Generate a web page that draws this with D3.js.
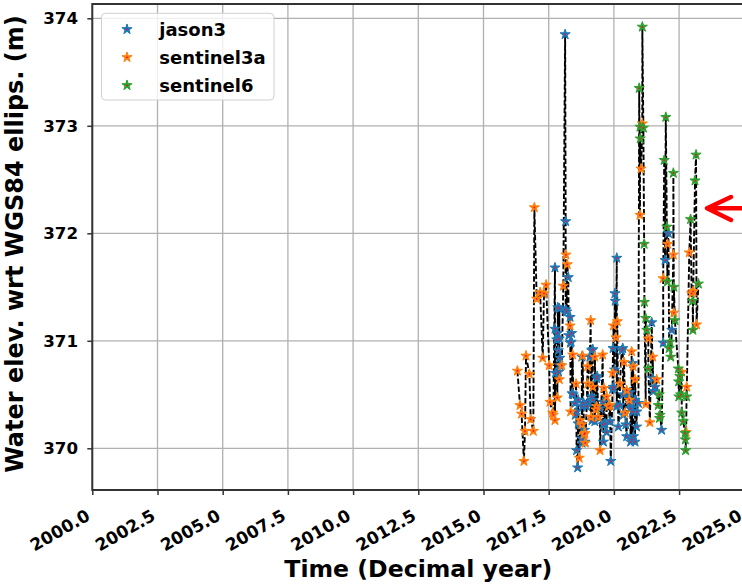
<!DOCTYPE html>
<html>
<head>
<meta charset="utf-8">
<script src="https://cdn.jsdelivr.net/npm/d3@7"></script>
<style>
    body { margin: 0; background: #fff; }
    text { font-family: "DejaVu Sans", sans-serif; font-weight: bold; fill: #000; }
</style>
</head>
<body>
<div id="chart"></div>
<script>
// mission names, in legend order
const missions = ["jason3", "sentinel3a", "sentinel6"];

// [decimal year, water elevation (m)]
const jason3 = [
    [2017.74, 371.68], [2017.74, 371.11], [2017.76, 370.70], [2017.81, 371.01], [2017.83, 371.07],
    [2017.85, 371.31], [2017.87, 370.91], [2017.88, 370.71], [2017.90, 371.02], [2017.91, 371.30],
    [2017.93, 370.84], [2017.93, 370.77], [2018.13, 373.85], [2018.15, 372.11], [2018.15, 371.29],
    [2018.19, 371.27], [2018.25, 371.59], [2018.27, 371.05], [2018.32, 371.22], [2018.33, 370.98],
    [2018.36, 370.99], [2018.38, 371.07], [2018.40, 370.51], [2018.44, 370.50], [2018.51, 370.42],
    [2018.52, 370.31], [2018.56, 370.34], [2018.57, 369.98], [2018.61, 369.82], [2018.63, 370.45],
    [2018.63, 370.23], [2018.70, 370.22], [2018.77, 370.09], [2018.77, 370.85], [2018.78, 370.05],
    [2018.79, 370.39], [2018.83, 370.42], [2018.87, 370.17], [2018.89, 370.06], [2018.96, 370.39],
    [2019.00, 370.43], [2019.08, 370.85], [2019.15, 370.91], [2019.15, 370.48], [2019.16, 370.26],
    [2019.19, 370.92], [2019.19, 370.45], [2019.27, 370.25], [2019.34, 370.65], [2019.36, 370.67],
    [2019.40, 370.29], [2019.47, 370.37], [2019.59, 370.22], [2019.59, 370.43], [2019.60, 370.06],
    [2019.66, 370.23], [2019.72, 370.15], [2019.85, 370.25], [2019.88, 369.88], [2019.95, 370.55],
    [2019.97, 370.93], [2019.98, 370.57], [2020.03, 370.73], [2020.04, 371.44], [2020.05, 371.37],
    [2020.11, 371.77], [2020.11, 370.39], [2020.17, 370.20], [2020.23, 370.40], [2020.30, 370.91],
    [2020.34, 370.93], [2020.36, 370.31], [2020.36, 370.50], [2020.46, 370.22], [2020.49, 370.11],
    [2020.55, 370.51], [2020.62, 370.42], [2020.62, 370.52], [2020.63, 370.37], [2020.64, 370.06],
    [2020.68, 370.42], [2020.69, 370.08], [2020.72, 370.79], [2020.74, 370.34], [2020.75, 370.11],
    [2020.81, 370.06], [2020.81, 370.45], [2020.87, 370.20], [2020.88, 370.34], [2020.94, 370.42],
    [2021.45, 371.17], [2021.49, 370.65], [2021.51, 370.53], [2021.58, 370.57], [2021.83, 370.17],
    [2021.89, 370.98], [2021.96, 371.75], [2022.09, 372.00], [2022.22, 371.10]
];

const sentinel3a = [
    [2016.30, 370.72], [2016.40, 370.40], [2016.46, 370.32], [2016.55, 369.88], [2016.59, 370.16],
    [2016.63, 370.86], [2016.76, 370.69], [2016.81, 370.27], [2016.91, 370.16], [2016.95, 372.24],
    [2017.04, 371.39], [2017.17, 371.45], [2017.27, 370.84], [2017.32, 371.44], [2017.40, 371.52],
    [2017.52, 370.77], [2017.55, 370.43], [2017.65, 370.33], [2017.68, 370.31], [2017.74, 370.26],
    [2017.83, 370.47], [2017.91, 370.64], [2018.00, 370.77], [2018.06, 371.51], [2018.16, 371.80],
    [2018.21, 371.71], [2018.32, 371.14], [2018.34, 370.34], [2018.42, 370.87], [2018.55, 370.60],
    [2018.67, 369.91], [2018.70, 370.26], [2018.77, 370.22], [2018.80, 370.86], [2018.86, 370.13],
    [2018.89, 370.14], [2018.90, 370.05], [2018.99, 370.76], [2019.00, 370.60], [2019.11, 371.19],
    [2019.12, 370.29], [2019.19, 370.57], [2019.27, 370.85], [2019.31, 370.36], [2019.34, 370.39],
    [2019.40, 370.29], [2019.47, 369.98], [2019.57, 370.87], [2019.62, 370.56], [2019.72, 370.48],
    [2019.79, 370.39], [2019.85, 370.40], [2019.95, 370.70], [2019.98, 371.14], [2020.08, 371.03],
    [2020.13, 371.18], [2020.23, 370.60], [2020.39, 370.80], [2020.43, 370.33], [2020.49, 370.54],
    [2020.59, 370.45], [2020.68, 370.90], [2020.74, 370.76], [2020.81, 370.64], [2021.00, 372.17],
    [2021.04, 372.60], [2021.09, 373.02], [2021.22, 370.41], [2021.32, 371.02], [2021.38, 370.24],
    [2021.49, 370.85], [2021.64, 370.64], [2021.89, 371.58], [2022.06, 371.90], [2022.28, 371.80],
    [2022.30, 371.26], [2022.60, 370.71], [2022.77, 370.15], [2022.79, 370.57], [2022.89, 371.82],
    [2022.98, 371.44], [2023.04, 371.46], [2023.17, 371.15]
];

const sentinel6 = [
    [2020.97, 373.35], [2021.00, 372.99], [2021.01, 372.88], [2021.09, 373.92], [2021.13, 372.98],
    [2021.16, 371.90], [2021.17, 371.36], [2021.22, 371.21], [2021.26, 371.10], [2021.32, 370.74],
    [2021.70, 370.40], [2021.74, 370.50], [2021.75, 370.28], [2021.77, 370.31], [2021.93, 372.68],
    [2021.99, 373.08], [2022.03, 372.06], [2022.05, 371.55], [2022.12, 370.93], [2022.15, 370.99],
    [2022.18, 370.85], [2022.28, 372.56], [2022.30, 371.50], [2022.34, 371.19], [2022.47, 370.74],
    [2022.48, 370.62], [2022.49, 370.48], [2022.53, 370.67], [2022.56, 370.50], [2022.60, 370.33],
    [2022.66, 370.25], [2022.73, 370.14], [2022.74, 370.08], [2022.75, 369.98], [2022.79, 370.48],
    [2022.94, 372.13], [2023.02, 371.37], [2023.03, 371.10], [2023.11, 372.49], [2023.15, 372.73],
    [2023.24, 371.53]
];

const xTicks = [2000, 2002.5, 2005, 2007.5, 2010, 2012.5, 2015, 2017.5, 2020, 2022.5, 2025];
const yTicks = [370, 371, 372, 373, 374];

class ElevationChart {
    constructor() {
        var self = this;
        self.width = 742;
        self.height = 587;
        self.plot = {left: 92.3, right: 744.3, top: 4, bottom: 490};
        self.colors = {jason3: "#1f77b4", sentinel3a: "#ff7f0e", sentinel6: "#2ca02c"};
        self.series = {jason3: jason3, sentinel3a: sentinel3a, sentinel6: sentinel6};
        self.init();
    }

    starPath() {
        return d3.symbol().type(d3.symbolStar).size(32)();
    }

    init() {
        var self = this;
        var p = self.plot;

        self.svg = d3.select("#chart").append("svg")
            .attr("width", self.width)
            .attr("height", self.height);

        self.xScale = d3.scaleLinear().domain([2000, 2025]).range([p.left, p.right]);
        self.yScale = d3.scaleLinear().domain([369.612, 374.133]).range([p.bottom, p.top]);

        // grid
        self.svg.append("g").selectAll("line.vgrid")
            .data(xTicks).enter().append("line")
            .attr("x1", d => self.xScale(d)).attr("x2", d => self.xScale(d))
            .attr("y1", p.top).attr("y2", p.bottom)
            .attr("stroke", "#b0b0b0").attr("stroke-width", 1.3);

        self.svg.append("g").selectAll("line.hgrid")
            .data(yTicks).enter().append("line")
            .attr("x1", p.left).attr("x2", p.right)
            .attr("y1", d => self.yScale(d)).attr("y2", d => self.yScale(d))
            .attr("stroke", "#b0b0b0").attr("stroke-width", 1.3);

        // dashed black line through all samples in time order
        var all = [];
        missions.forEach(function(m) {
            self.series[m].forEach(function(d) { all.push(d); });
        });
        all.sort(function(a, b) { return a[0] - b[0]; });

        var line = d3.line()
            .x(d => self.xScale(d[0]))
            .y(d => self.yScale(d[1]));

        self.svg.append("path")
            .datum(all)
            .attr("d", line)
            .attr("fill", "none")
            .attr("stroke", "#000")
            .attr("stroke-width", 1.9)
            .attr("stroke-dasharray", "5.5,2.3");

        // star markers per mission
        missions.forEach(function(m) {
            var g = self.svg.append("g");
            g.selectAll("path")
                .data(self.series[m]).enter().append("path")
                .attr("d", self.starPath())
                .attr("transform", d => "translate(" + self.xScale(d[0]) + "," + self.yScale(d[1]) + ")")
                .attr("fill", self.colors[m])
                .attr("stroke", self.colors[m])
                .attr("stroke-width", 1);
            g.selectAll("circle")
                .data(self.series[m]).enter().append("circle")
                .attr("cx", d => self.xScale(d[0]))
                .attr("cy", d => self.yScale(d[1]))
                .attr("r", 0.9)
                .attr("fill", "#f0103a");
        });

        // spines
        self.svg.append("path")
            .attr("d", "M" + p.right + "," + p.top + "H" + p.left + "V" + p.bottom + "H" + p.right)
            .attr("fill", "none")
            .attr("stroke", "#333")
            .attr("stroke-width", 2);

        // x axis
        var xAxis = d3.axisBottom(self.xScale)
            .tickValues(xTicks)
            .tickFormat(d3.format(".1f"))
            .tickSize(5);

        var gx = self.svg.append("g")
            .attr("transform", "translate(0," + p.bottom + ")")
            .call(xAxis);
        gx.select(".domain").remove();
        gx.selectAll(".tick line").attr("stroke", "#333").attr("stroke-width", 1.5);
        gx.selectAll(".tick text")
            .attr("x", 0).attr("y", 0).attr("dy", 0)
            .attr("text-anchor", "end")
            .attr("transform", "translate(-1.5,29) rotate(-30)")
            .style("font-size", "17px");

        // y axis
        var yAxis = d3.axisLeft(self.yScale)
            .tickValues(yTicks)
            .tickFormat(d3.format("d"))
            .tickSize(5)
            .tickPadding(9.3);

        var gy = self.svg.append("g")
            .attr("transform", "translate(" + p.left + ",0)")
            .call(yAxis);
        gy.select(".domain").remove();
        gy.selectAll(".tick line").attr("stroke", "#333").attr("stroke-width", 1.5);
        gy.selectAll(".tick text").style("font-size", "16.7px");

        d3.selectAll(".tick text").attr("fill", "#000").attr("font-family", null);

        // axis labels
        self.svg.append("text")
            .attr("x", (p.left + p.right) / 2)
            .attr("y", 577)
            .attr("text-anchor", "middle")
            .style("font-size", "23.6px")
            .text("Time (Decimal year)");

        self.svg.append("text")
            .attr("transform", "translate(23," + ((p.top + p.bottom) / 2 - 3) + ") rotate(-90)")
            .attr("text-anchor", "middle")
            .style("font-size", "24px")
            .text("Water elev. wrt WGS84 ellips. (m)");

        // legend
        var legend = self.svg.append("g");
        legend.append("rect")
            .attr("x", 101.5).attr("y", 13.3)
            .attr("width", 172.5).attr("height", 86.7)
            .attr("rx", 4)
            .attr("fill", "#fff").attr("fill-opacity", 0.8)
            .attr("stroke", "#d0d0d0").attr("stroke-width", 1);

        missions.forEach(function(m, i) {
            var ly = 29.3 + i * 28;
            legend.append("path")
                .attr("d", self.starPath())
                .attr("transform", "translate(127," + ly + ")")
                .attr("fill", self.colors[m])
                .attr("stroke", self.colors[m])
                .attr("stroke-width", 1);
            legend.append("circle")
                .attr("cx", 127).attr("cy", ly).attr("r", 0.9)
                .attr("fill", "#f0103a");
            legend.append("text")
                .attr("x", 159.3).attr("y", ly)
                .attr("dy", "0.36em")
                .style("font-size", "18px")
                .text(m);
        });

        // red arrow pointing at the last samples
        self.svg.append("path")
            .attr("d", "M742,208.3H708M731,197L707,208.3L731,220")
            .attr("fill", "none")
            .attr("stroke", "#ff0000")
            .attr("stroke-width", 4.5)
            .attr("stroke-linecap", "round")
            .attr("stroke-linejoin", "round");
    }
}

new ElevationChart();
</script>
</body>
</html>
